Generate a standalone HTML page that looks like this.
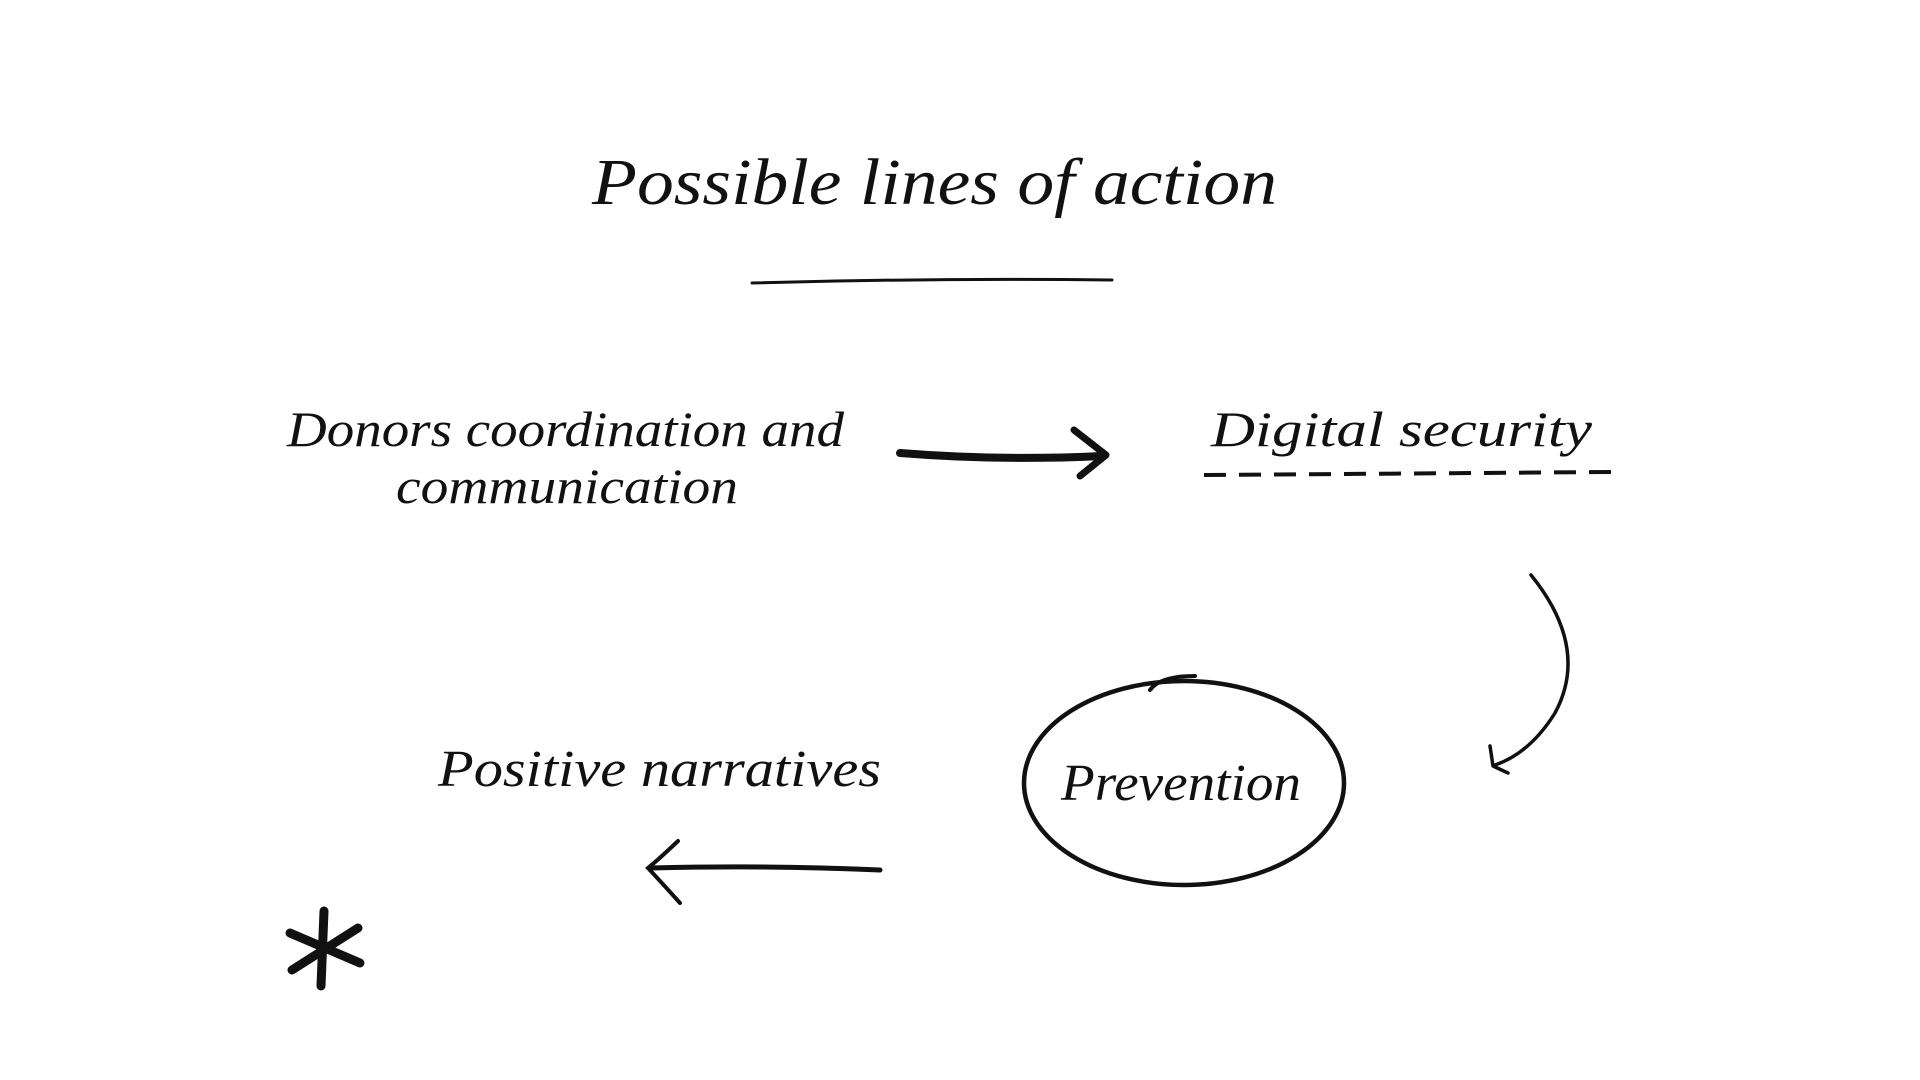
<!DOCTYPE html>
<html><head><meta charset="utf-8"><style>
html,body{margin:0;padding:0;background:#fff;}
svg{display:block;}
text{font-family:"Liberation Serif",serif;font-style:italic;fill:#111;}
</style></head><body>
<svg width="1920" height="1080" viewBox="0 0 1920 1080">
<rect width="1920" height="1080" fill="#fff"/>
<g transform="translate(-10,-2)">
<text x="602" y="206" font-size="66" textLength="685" lengthAdjust="spacingAndGlyphs">Possible lines of action</text>
<path d="M762 285 Q940 280 1122 282" stroke="#111" stroke-width="3" fill="none" stroke-linecap="round"/>
<text x="297" y="448" font-size="50" textLength="557" lengthAdjust="spacingAndGlyphs">Donors coordination and</text>
<text x="406" y="505" font-size="50" textLength="342" lengthAdjust="spacingAndGlyphs">communication</text>
<path d="M910 455 Q1010 463 1112 458" stroke="#111" stroke-width="8" fill="none" stroke-linecap="round"/>
<path d="M1084 432 L1116 457 L1090 478" stroke="#111" stroke-width="7" fill="none" stroke-linecap="round" stroke-linejoin="round"/>
<text x="1221" y="448" font-size="50" textLength="381" lengthAdjust="spacingAndGlyphs">Digital security</text>
<path d="M1214 477 L1623 474" stroke="#111" stroke-width="4" stroke-dasharray="22 13" fill="none"/>
<path d="M1541 577 Q1600 650 1565 715 Q1540 755 1505 767" stroke="#111" stroke-width="3.5" fill="none" stroke-linecap="round"/>
<path d="M1500 748 L1503 768 L1518 775" stroke="#111" stroke-width="3.5" fill="none" stroke-linecap="round" stroke-linejoin="round"/>
<ellipse cx="1194" cy="785" rx="160" ry="102" stroke="#111" stroke-width="4.5" fill="none"/>
<path d="M1160 692 Q1170 678 1205 678" stroke="#111" stroke-width="4" fill="none" stroke-linecap="round"/>
<text x="1071" y="802" font-size="52" textLength="240" lengthAdjust="spacingAndGlyphs">Prevention</text>
<text x="448" y="788" font-size="52" textLength="443" lengthAdjust="spacingAndGlyphs">Positive narratives</text>
<path d="M890 872 Q780 867 660 870" stroke="#111" stroke-width="5" fill="none" stroke-linecap="round"/>
<path d="M688 843 Q668 862 658 870 Q672 885 690 905" stroke="#111" stroke-width="4" fill="none" stroke-linecap="round"/>
<g stroke="#111" stroke-width="9" stroke-linecap="round">
<line x1="334" y1="913" x2="331" y2="988"/>
<line x1="300" y1="935" x2="370" y2="965"/>
<line x1="302" y1="972" x2="368" y2="930"/>
</g>
</g>
</svg>
</body></html>
